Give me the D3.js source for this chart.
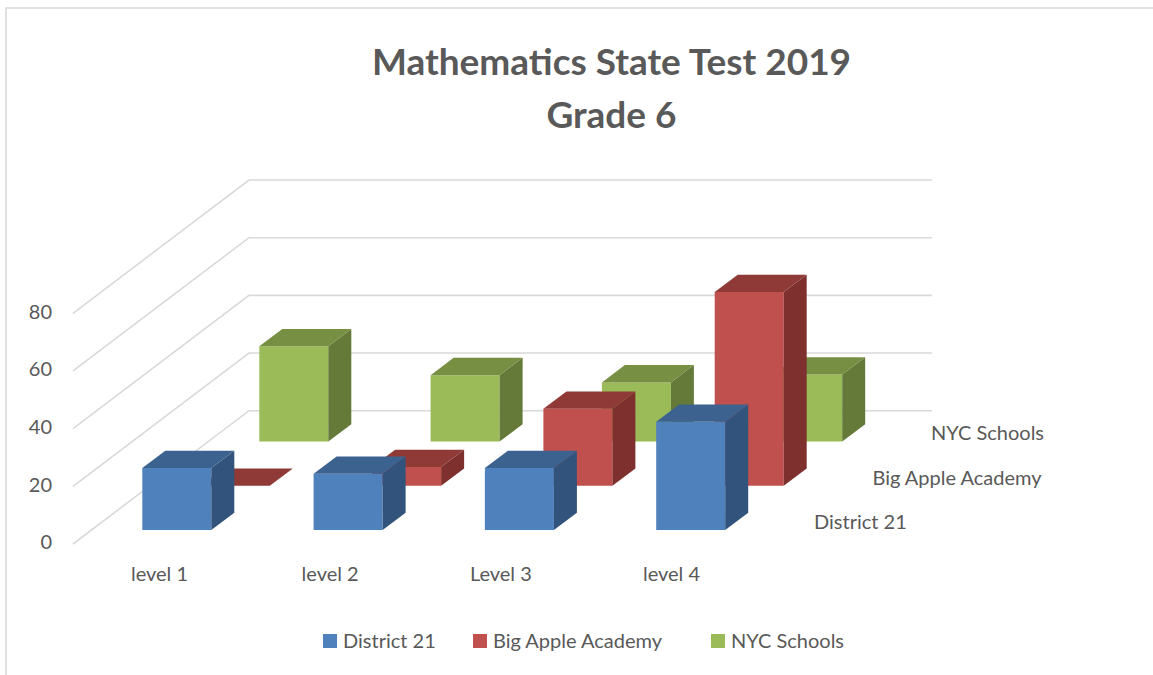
<!DOCTYPE html>
<html>
<head>
<meta charset="utf-8">
<script src="https://cdnjs.cloudflare.com/ajax/libs/d3/7.8.5/d3.min.js"></script>
<style>
html,body{margin:0;padding:0;background:#fff;overflow:hidden}
svg{display:block}
text{font-family:Lato,"Open Sans",sans-serif;fill:#595959}
</style>
</head>
<body>
<svg id="chart" width="1153" height="675"></svg>
<script>
const categories = ["level 1", "level 2", "Level 3", "level 4"];
const seriesNames = ["District 21", "Big Apple Academy", "NYC Schools"];
const district21 = [21.5, 19.5, 21.5, 37.5];
const bigApple = [0, 6.5, 26.7, 67.2];
const nycSchools = [33, 23, 20.5, 23.2];
const valueTicks = [0, 20, 40, 60, 80];
const titleLines = ["Mathematics State Test 2019", "Grade 6"];
const faceColors = ["#4f81bd", "#c0504d", "#9bbb59"];
const topColors = ["#3c6290", "#8f3a37", "#768f43"];
const sideColors = ["#32537b", "#7d302e", "#657a38"];

const seriesValues = [district21, bigApple, nycSchools];
const svg = d3.select("#chart");

const barW = 69, barDX = 23, barDY = 17.3;
const xScale = d3.scalePoint().domain(categories).range([142.3, 656.2]);
const yScale = d3.scaleLinear().domain([0, 80]).range([0, 230.7]);
const depthX = d3.scalePoint().domain(seriesNames).range([0, 117]);
const depthY = d3.scalePoint().domain(seriesNames).range([530, 441.5]);

// frame
svg.append("path").attr("d", "M6,675V8H1153").attr("fill", "none")
  .attr("stroke", "#d9d9d9").attr("stroke-width", 1.6);

// walls
const wallX = [73, 249, 932], wallBack = 410.7, wallFront = 544;
const grid = svg.append("g").attr("fill", "none").attr("stroke", "#d9d9d9").attr("stroke-width", 1.6);
grid.selectAll("path").data(valueTicks).join("path")
  .attr("d", v => d3.line()([
    [wallX[0], wallFront - yScale(v)],
    [wallX[1], wallBack - yScale(v)],
    [wallX[2], wallBack - yScale(v)]
  ]));

// bars, back to front
const plot = svg.append("g");
[2, 1, 0].forEach(s => {
  const name = seriesNames[s];
  categories.forEach((c, i) => {
    const x = xScale(c) + depthX(name);
    const y0 = depthY(name);
    const y1 = y0 - yScale(seriesValues[s][i]);
    const g = plot.append("g").attr("class", "bar");
    if (y1 < y0) g.append("path").attr("fill", faceColors[s])
      .attr("d", d3.line()([[x, y0], [x + barW, y0], [x + barW, y1], [x, y1]]) + "Z");
    if (y1 < y0) g.append("path").attr("fill", sideColors[s])
      .attr("d", d3.line()([[x + barW, y0], [x + barW + barDX, y0 - barDY], [x + barW + barDX, y1 - barDY], [x + barW, y1]]) + "Z");
    g.append("path").attr("fill", topColors[s])
      .attr("d", d3.line()([[x, y1], [x + barW, y1], [x + barW + barDX, y1 - barDY], [x + barDX, y1 - barDY]]) + "Z");
  });
});

// value axis
const axisScale = d3.scaleLinear().domain([0, 80]).range([542.5, 311.8]);
const yAxis = svg.append("g").attr("transform", "translate(52,0)")
  .call(d3.axisLeft(axisScale).tickValues(valueTicks).tickSize(0).tickPadding(0));
yAxis.select(".domain").remove();
yAxis.selectAll("text").style("font-size", "20px").style("font-family", "Lato").attr("fill", "#595959");

// category axis
const catScale = d3.scalePoint().domain(categories).range([159, 671]);
const xAxis = svg.append("g").attr("transform", "translate(0,574)")
  .call(d3.axisBottom(catScale).tickSize(0).tickPadding(0));
xAxis.select(".domain").remove();
xAxis.selectAll("text").attr("dy", "0.35em").attr("y", 0)
  .style("font-size", "20px").style("font-family", "Lato").attr("fill", "#595959");

// depth axis labels
const labelX = d3.scalePoint().domain(seriesNames).range([814, 931]);
const labelY = d3.scalePoint().domain(seriesNames).range([522, 433]);
svg.append("g").selectAll("text").data(seriesNames).join("text")
  .attr("x", d => labelX(d)).attr("y", d => labelY(d)).attr("dy", "0.35em")
  .style("font-size", "20px").text(d => d);

// title
svg.append("g").selectAll("text").data(titleLines).join("text")
  .attr("x", 611.5).attr("y", (d, i) => 62 + i * 53).attr("dy", "0.35em")
  .attr("text-anchor", "middle").style("font-size", "37px").style("font-weight", 700)
  .text(d => d);

// legend
const legendX = d3.scaleOrdinal().domain(seriesNames).range([323, 473, 711]);
const legend = svg.append("g").selectAll("g").data(seriesNames).join("g")
  .attr("transform", d => `translate(${legendX(d)},634)`);
legend.append("rect").attr("width", 14).attr("height", 14)
  .attr("fill", (d, i) => faceColors[i]);
legend.append("text").attr("x", 20).attr("y", 7).attr("dy", "0.35em")
  .style("font-size", "20px").text(d => d);
</script>
</body>
</html>
